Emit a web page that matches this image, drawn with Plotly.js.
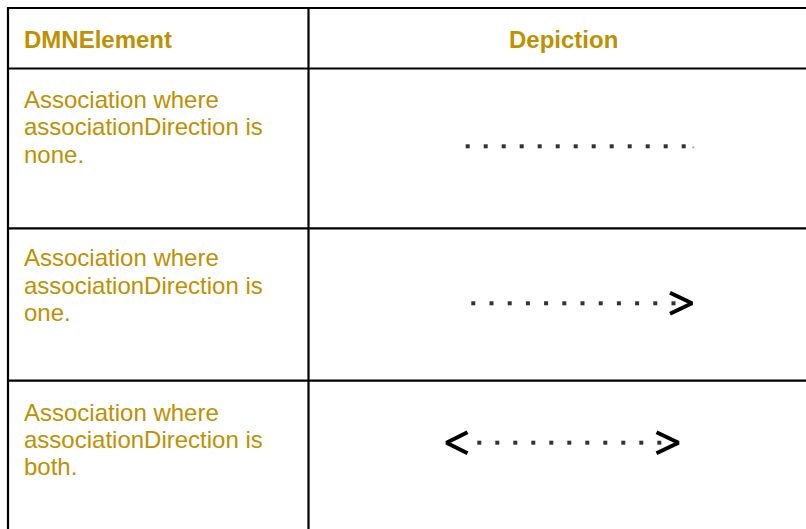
<!DOCTYPE html>
<html>
<head>
<meta charset="utf-8">
<script src="https://cdn.plot.ly/plotly-3.0.1.min.js"></script>
<style>html,body{margin:0;padding:0;background:#fff;}#chart{width:806px;height:529px;}</style>
</head>
<body>
<div id="chart"></div>
<script>
// ---- data ----
const headers = ["DMNElement", "Depiction"];
const rowLabelLines = [
  ["Association where", "associationDirection is", "none."],
  ["Association where", "associationDirection is", "one."],
  ["Association where", "associationDirection is", "both."]
];
const directions = ["none", "one", "both"];
const dotCounts = [13, 12, 11];

// ---- layout geometry ----
const W = 806, H = 529;
const tableLeft = 8, tableTop = 8, colDiv = 308.5;
const rowLines = [68.5, 228.3, 380.7];
const rowMidY = [146.3, 303.3, 442.7];
const dotStart = [467.7, 473.3, 479.3];
const dotStep = [18, 18.2, 18];
const textColor = "#bf9000";
const lineColor = "#000000";
const FONT = "Liberation Sans, Arial, sans-serif";

const traces = [];
const shapes = [];
const annotations = [];

// grid
[tableTop].concat(rowLines).forEach(y => {
  shapes.push({type: "line", xref: "x", yref: "y", x0: tableLeft - 1, x1: W, y0: y, y1: y,
    line: {color: lineColor, width: 2.2}});
});
[tableLeft, colDiv].forEach(x => {
  shapes.push({type: "line", xref: "x", yref: "y", x0: x, x1: x, y0: tableTop - 1, y1: H,
    line: {color: lineColor, width: 2.2}});
});

// headers
annotations.push({x: 22, y: 39, xref: "x", yref: "y", xanchor: "left", yanchor: "middle",
  text: "<b>" + headers[0] + "</b>", showarrow: false,
  font: {family: FONT, size: 24, color: textColor}});
annotations.push({x: 563, y: 39, xref: "x", yref: "y", xanchor: "center", yanchor: "middle",
  text: "<b>" + headers[1] + "</b>", showarrow: false,
  font: {family: FONT, size: 24, color: textColor}});

// row labels
const firstBaseline = [107.3, 265.7, 420];
const lineGap = 27.4;
rowLabelLines.forEach((lines, r) => {
  lines.forEach((ln, i) => {
    annotations.push({x: 22, y: firstBaseline[r] + i * lineGap - 8, xref: "x", yref: "y",
      xanchor: "left", yanchor: "middle", text: ln, showarrow: false,
      font: {family: FONT, size: 24, color: textColor}});
  });
});

// depictions
directions.forEach((dir, r) => {
  const xs = [], ys = [];
  for (let k = 0; k < dotCounts[r]; k++) { xs.push(dotStart[r] + k * dotStep[r]); ys.push(rowMidY[r]); }
  traces.push({type: "scatter", mode: "markers", x: xs, y: ys, hoverinfo: "skip",
    marker: {symbol: "square", size: 4, color: "#333333", line: {width: 0}}});
  if (dir === "none") {
    traces.push({type: "scatter", mode: "markers", x: [693.3], y: [rowMidY[r] + 1], hoverinfo: "skip",
      marker: {symbol: "square", size: 2, color: "#aaaaaa", line: {width: 0}}});
  }
  const yc = rowMidY[r];
  if (dir === "one" || dir === "both") {
    const tip = dir === "one" ? 692 : 678.5;
    traces.push({type: "scatter", mode: "lines", x: [tip - 22, tip, tip - 22], y: [yc - 10.5, yc, yc + 10.5],
      hoverinfo: "skip", line: {color: "#000", width: 4}});
  }
  if (dir === "both") {
    const tipL = 446.5;
    traces.push({type: "scatter", mode: "lines", x: [tipL + 21, tipL, tipL + 21], y: [yc - 10.5, yc, yc + 10.5],
      hoverinfo: "skip", line: {color: "#000", width: 4}});
  }
});

const layout = {
  width: W, height: H,
  margin: {l: 0, r: 0, t: 0, b: 0, pad: 0},
  paper_bgcolor: "#ffffff", plot_bgcolor: "#ffffff",
  showlegend: false,
  xaxis: {range: [0, W], visible: false, fixedrange: true},
  yaxis: {range: [H, 0], visible: false, fixedrange: true},
  shapes: shapes,
  annotations: annotations
};

Plotly.newPlot("chart", traces, layout, {displayModeBar: false, staticPlot: true});
</script>
</body>
</html>
